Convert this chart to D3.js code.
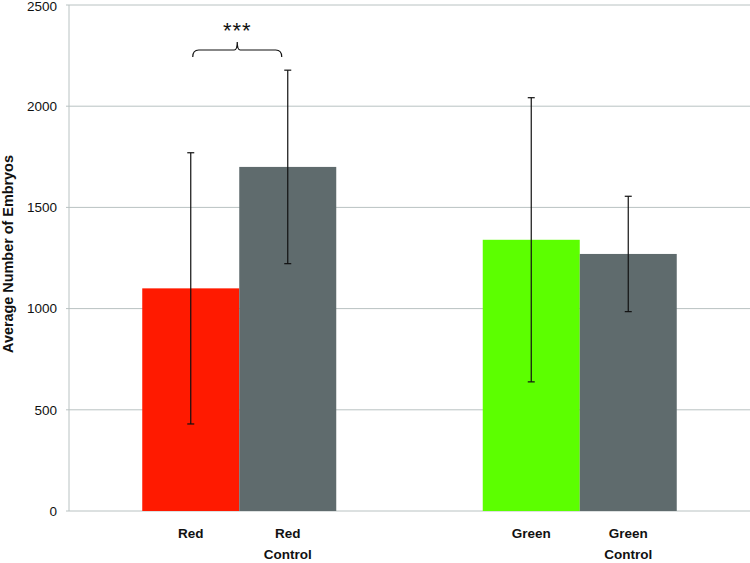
<!DOCTYPE html>
<html><head><meta charset="utf-8">
<script src="https://cdn.jsdelivr.net/npm/d3@7"></script>
<style>body{margin:0;background:#fff}svg{display:block}</style>
</head><body>
<svg id="chart" width="750" height="563"></svg>
<script>
const groups = ["Red", "Green"];
const labels = [["Red"], ["Red", "Control"], ["Green"], ["Green", "Control"]];
const values = [1100, 1700, 1340, 1270];
const errors = [670, 478, 702, 285];
const barColors = ["#ff1a00", "#5f6b6d", "#5cff00", "#5f6b6d"];
const yTicks = [0, 500, 1000, 1500, 2000, 2500];
const yLabel = "Average Number of Embryos";
const sigLabel = "***";

(function () {
const svg = d3.select("#chart");
const pL = 69, pR = 750, pT = 5, pB = 511;

const x0 = d3.scaleBand().domain(groups).range([pL, pR]).paddingInner(0).paddingOuter(0);
const y = d3.scaleLinear().domain([0, 2500]).range([pB, pT]);
const bw = 97;
const font = "Liberation Sans, Arial, sans-serif";

// grid
svg.append("g").selectAll("line").data(yTicks).join("line")
  .attr("x1", pL - 3).attr("x2", pR).attr("y1", d => y(d)).attr("y2", d => y(d))
  .attr("stroke", "#b9c2c2").attr("stroke-width", 1);
svg.append("line").attr("x1", pL).attr("x2", pL).attr("y1", pT).attr("y2", pB)
  .attr("stroke", "#b9c2c2");

const yAxis = d3.axisLeft(y).tickValues(yTicks).tickSize(0).tickPadding(12).tickFormat(d3.format("d"));
const ga = svg.append("g").attr("transform", `translate(${pL},0)`).call(yAxis);
ga.select(".domain").remove();
ga.selectAll("text").attr("font-family", font).attr("font-size", 13.5).attr("fill", "#111")
  .attr("dy", d => d === 2500 ? "0.42em" : "0.32em");

const bars = values.map((v, i) => {
  const g = groups[Math.floor(i / 2)];
  const cx = x0(g) + x0.bandwidth() / 2;
  const xs = (i % 2 === 0) ? cx - bw : cx;
  return {v, e: errors[i], x: xs, c: barColors[i], lab: labels[i]};
});

svg.append("g").selectAll("rect").data(bars).join("rect")
  .attr("x", d => d.x).attr("width", bw)
  .attr("y", d => y(d.v)).attr("height", d => y(0) - y(d.v))
  .attr("fill", d => d.c);

const eg = svg.append("g").attr("stroke", "#111").attr("stroke-width", 1.2);
bars.forEach(d => {
  const cx = d.x + bw / 2;
  eg.append("line").attr("x1", cx).attr("x2", cx).attr("y1", y(d.v + d.e)).attr("y2", y(d.v - d.e));
  eg.append("line").attr("x1", cx - 3.5).attr("x2", cx + 3.5).attr("y1", y(d.v + d.e)).attr("y2", y(d.v + d.e));
  eg.append("line").attr("x1", cx - 3.5).attr("x2", cx + 3.5).attr("y1", y(d.v - d.e)).attr("y2", y(d.v - d.e));
});

// category labels
const lg = svg.append("g").attr("font-family", font).attr("font-size", 13.5)
  .attr("font-weight", "bold").attr("text-anchor", "middle").attr("fill", "#111");
bars.forEach(d => {
  d.lab.forEach((t, j) => {
    lg.append("text").attr("x", d.x + bw / 2).attr("y", 538 + j * 21).text(t);
  });
});

// y label
svg.append("text").attr("transform", `translate(13,254) rotate(-90)`)
  .attr("text-anchor", "middle").attr("font-family", font)
  .attr("font-size", 14.4).attr("font-weight", "bold").attr("fill", "#111").text(yLabel);

// significance bracket
const bx1 = bars[0].x + bw / 2 + 2, bx2 = bars[1].x + bw / 2 - 6;
const bm = (bx1 + bx2) / 2, by = 50;
svg.append("path")
  .attr("d", `M${bx1},57 Q${bx1},${by} ${bx1 + 6},${by} L${bm - 3},${by} Q${bm},${by} ${bm},${by - 8} Q${bm},${by} ${bm + 3},${by} L${bx2 - 6},${by} Q${bx2},${by} ${bx2},57`)
  .attr("fill", "none").attr("stroke", "#111").attr("stroke-width", 1.2);
svg.append("text").attr("x", bm).attr("y", 38).attr("text-anchor", "middle")
  .attr("font-family", font).attr("font-size", 22).attr("letter-spacing", 1).attr("fill", "#111").text(sigLabel);
})();
</script>
</body></html>
